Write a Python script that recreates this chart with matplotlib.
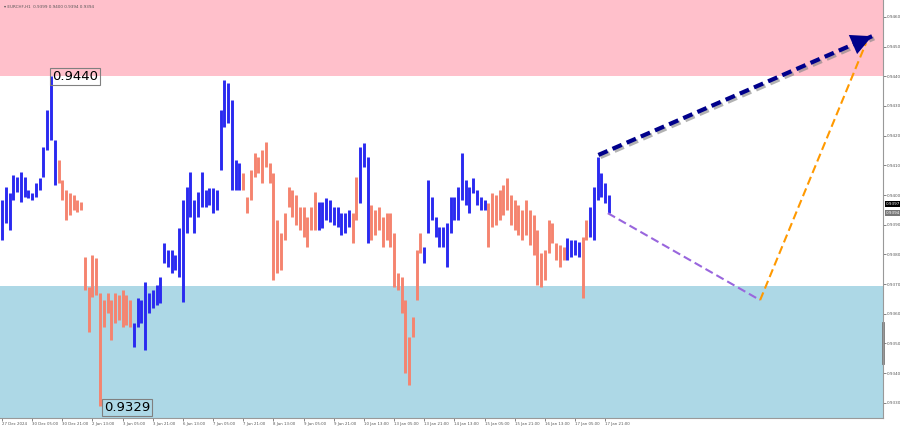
import numpy as np
import matplotlib.pyplot as plt
import matplotlib.patheffects as pe
import matplotlib.transforms as mtransforms

# EURCHF - barras (máximo / mínimo), una cada 2 horas aprox.
high = [
    0.93983, 0.94027, 0.94007, 0.94067, 0.94061, 0.94077, 0.94061, 0.94017, 0.94007, 0.94040,
    0.94057, 0.94162, 0.94286, 0.94400, 0.94185, 0.94118, 0.94051, 0.94017, 0.94007, 0.94000,
    0.93983, 0.93976, 0.93791, 0.93690, 0.93798, 0.93788, 0.93670, 0.93646, 0.93670, 0.93646,
    0.93670, 0.93663, 0.93680, 0.93663, 0.93646, 0.93569, 0.93653, 0.93646, 0.93707, 0.93670,
    0.93680, 0.93697, 0.93724, 0.93838, 0.93815, 0.93815, 0.93798, 0.93889, 0.93983, 0.94027,
    0.94077, 0.93983, 0.94010, 0.94077, 0.94017, 0.94024, 0.94024, 0.94017, 0.94286, 0.94387,
    0.94377, 0.94320, 0.94118, 0.94108, 0.94074, 0.93993, 0.94084, 0.94141, 0.94128, 0.94152,
    0.94178, 0.94108, 0.94074, 0.93916, 0.93872, 0.93939, 0.94027, 0.94017, 0.94000, 0.93960,
    0.93960, 0.93926, 0.93960, 0.94010, 0.93976, 0.93976, 0.93990, 0.93983, 0.93960, 0.93960,
    0.93939, 0.93939, 0.93949, 0.93939, 0.94061, 0.94162, 0.94175, 0.94128, 0.93966, 0.93949,
    0.93960, 0.93926, 0.93939, 0.93939, 0.93872, 0.93737, 0.93724, 0.93646, 0.93522, 0.93589,
    0.93815, 0.93872, 0.93825, 0.94051, 0.93993, 0.93926, 0.93892, 0.93892, 0.93906, 0.93993,
    0.93993, 0.94027, 0.94141, 0.94051, 0.94027, 0.94057, 0.94017, 0.93993, 0.93983, 0.93973,
    0.94007, 0.94000, 0.94017, 0.94034, 0.94057, 0.94000, 0.93983, 0.93966, 0.93949, 0.93983,
    0.93949, 0.93933, 0.93882, 0.93805, 0.93815, 0.93916, 0.93906, 0.93838, 0.93832, 0.93825,
    0.93855, 0.93848, 0.93848, 0.93842, 0.93859, 0.93916, 0.93960, 0.94027, 0.94128, 0.94074,
    0.94040, 0.94000,
]
low = [
    0.93848, 0.93906, 0.93882, 0.93983, 0.94010, 0.93976, 0.93993, 0.93990, 0.93983, 0.93993,
    0.94017, 0.94061, 0.94152, 0.94185, 0.94034, 0.94040, 0.93983, 0.93916, 0.93933, 0.93949,
    0.93943, 0.93949, 0.93680, 0.93539, 0.93657, 0.93663, 0.93290, 0.93556, 0.93603, 0.93512,
    0.93569, 0.93579, 0.93556, 0.93562, 0.93556, 0.93488, 0.93556, 0.93569, 0.93478, 0.93603,
    0.93619, 0.93630, 0.93636, 0.93771, 0.93758, 0.93737, 0.93747, 0.93724, 0.93640, 0.93872,
    0.93926, 0.93872, 0.93926, 0.93960, 0.93960, 0.93966, 0.93939, 0.93949, 0.94084, 0.94229,
    0.94242, 0.94017, 0.94017, 0.94017, 0.94017, 0.93939, 0.93983, 0.94061, 0.94074, 0.94040,
    0.94094, 0.94040, 0.93714, 0.93737, 0.93747, 0.93848, 0.93960, 0.93926, 0.93899, 0.93882,
    0.93859, 0.93825, 0.93882, 0.93882, 0.93882, 0.93889, 0.93916, 0.93909, 0.93899, 0.93892,
    0.93865, 0.93872, 0.93892, 0.93838, 0.93916, 0.93973, 0.94094, 0.93838, 0.93848, 0.93865,
    0.93882, 0.93825, 0.93848, 0.93825, 0.93690, 0.93680, 0.93603, 0.93401, 0.93360, 0.93522,
    0.93646, 0.93805, 0.93771, 0.93872, 0.93916, 0.93859, 0.93825, 0.93825, 0.93758, 0.93872,
    0.93916, 0.93916, 0.93983, 0.93966, 0.93939, 0.94007, 0.93966, 0.93949, 0.93949, 0.93825,
    0.93892, 0.93899, 0.93916, 0.93933, 0.93949, 0.93899, 0.93882, 0.93865, 0.93848, 0.93865,
    0.93832, 0.93798, 0.93697, 0.93690, 0.93714, 0.93805, 0.93838, 0.93781, 0.93758, 0.93781,
    0.93781, 0.93791, 0.93798, 0.93791, 0.93653, 0.93848, 0.93859, 0.93848, 0.93983, 0.93993,
    0.93973, 0.93939,
]

# tramos de onda: longitud (en barras) y dirección (1 sube, 0 baja)
seg_len = [15, 20, 29, 20, 9, 2, 3, 14, 17, 21, 4, 2, 6]
seg_up = [1, 0, 1, 0, 1, 0, 1, 0, 1, 0, 1, 0, 1]

dates = ['27 Dec 2024', '30 Dec 05:00', '30 Dec 21:00', '2 Jan 13:00', '3 Jan 05:00',
         '3 Jan 21:00', '6 Jan 13:00', '7 Jan 05:00', '7 Jan 21:00', '8 Jan 13:00',
         '9 Jan 05:00', '9 Jan 21:00', '10 Jan 13:00', '13 Jan 05:00', '13 Jan 21:00',
         '14 Jan 13:00', '15 Jan 05:00', '15 Jan 21:00', '16 Jan 13:00', '17 Jan 05:00',
         '17 Jan 21:00']
price_ticks = [0.9330, 0.9340, 0.9350, 0.9360, 0.9370, 0.9380, 0.9390,
               0.9400, 0.9410, 0.9420, 0.9430, 0.9440, 0.9450, 0.9460]

# zonas de resistencia / soporte
zona_venta = [0.9440, 0.9470]
zona_compra = [0.9320, 0.93695]

# pronóstico
fc_up_x, fc_up_y = [158.2, 230.8], [0.94135, 0.94535]
fc_corr_x, fc_corr_y = [160.7, 201.1], [0.93939, 0.93646]
fc_next_x, fc_next_y = [201.1, 229.2], [0.93646, 0.94512]

pico = (13, 0.9440)
fondo = (26, 0.9329)

# figura
fig = plt.figure(figsize=(9, 4.29), dpi=100)
ax = fig.add_axes([0, 11/429, 883/900, 418/429])
ax.set_xlim(-0.53, 233.7)
ax.set_ylim(0.93249, 0.94657)

ax.axhspan(zona_venta[0], zona_venta[1], color='pink', zorder=0, lw=0)
ax.axhspan(zona_compra[0], zona_compra[1], color='lightblue', zorder=0, lw=0)

x = np.arange(len(high))
cols = np.repeat(['#2a2af0' if u else '#f5846f' for u in seg_up], seg_len)
ax.vlines(x, low, high, colors=cols, lw=2.1, zorder=2)

# líneas de pronóstico
ax.plot(fc_up_x, fc_up_y, ls=(0, (2.4, 1.3)), lw=3, color='#00008B', zorder=4,
        path_effects=[pe.SimpleLineShadow(offset=(1.5, -1.5), shadow_color='gray', alpha=0.6),
                      pe.Normal()])
ax.annotate('', xy=(fc_up_x[1], fc_up_y[1]), xytext=(fc_up_x[0], fc_up_y[0]),
            arrowprops=dict(arrowstyle='-|>,head_length=0.6,head_width=0.3',
                            mutation_scale=25, color='#00008B', lw=0,
                            shrinkA=0, shrinkB=0), zorder=5)
ax.plot(fc_corr_x, fc_corr_y, ls=(0, (4, 2)), lw=1.5, color='#9966DD', zorder=4)
ax.plot(fc_next_x, fc_next_y, ls=(0, (4, 2)), lw=1.5, color='#FF9900', zorder=4)

# etiquetas de extremos
caja = dict(boxstyle='square,pad=0.15', fc='none', ec='gray', lw=0.8)
ax.annotate('0.9440', xy=pico, xytext=(1, 0), textcoords='offset points',
            fontsize=9.5, va='center', ha='left', bbox=caja, zorder=6)
ax.annotate('0.9329', xy=fondo, xytext=(3, -1), textcoords='offset points',
            fontsize=9.5, va='center', ha='left', bbox=caja, zorder=6)

# ejes
for s in ['top', 'left']:
    ax.spines[s].set_visible(False)
for s in ['right', 'bottom']:
    ax.spines[s].set_color('#999999')
    ax.spines[s].set_linewidth(0.8)

ax.yaxis.tick_right()
ax.set_yticks(price_ticks)
ax.set_yticklabels([f'{p:.4f}' for p in price_ticks])
ax.tick_params(axis='y', labelsize=3, colors='#555555', length=2, width=0.5, pad=1)

ax.set_xticks(np.arange(0, 8 * len(dates), 8))
ax.set_xticklabels(dates)
ax.tick_params(axis='x', labelsize=2.8, colors='#555555', length=2, width=0.5, pad=1)
for lab in ax.get_xticklabels():
    lab.set_horizontalalignment('left')

# precios actuales en el eje
tr = mtransforms.blended_transform_factory(ax.transAxes, ax.transData)
ax.text(1.003, 0.93970, '0.9397', transform=tr, fontsize=3, color='white', va='center',
        ha='left', clip_on=False, bbox=dict(boxstyle='square,pad=0.2', fc='black', ec='none'))
ax.text(1.003, 0.93939, '0.9394', transform=tr, fontsize=3, color='white', va='center',
        ha='left', clip_on=False, bbox=dict(boxstyle='square,pad=0.2', fc='#777777', ec='none'))
ax.plot([1, 1], [0.93569, 0.93435], transform=tr, color='#777777', lw=2, clip_on=False)

fig.text(0.004, 0.988, '▾ EURCHF,H1  0.9399 0.9400 0.9394 0.9394', fontsize=3,
         color='#555555', va='top', ha='left')

plt.savefig('out.png', dpi=100)
